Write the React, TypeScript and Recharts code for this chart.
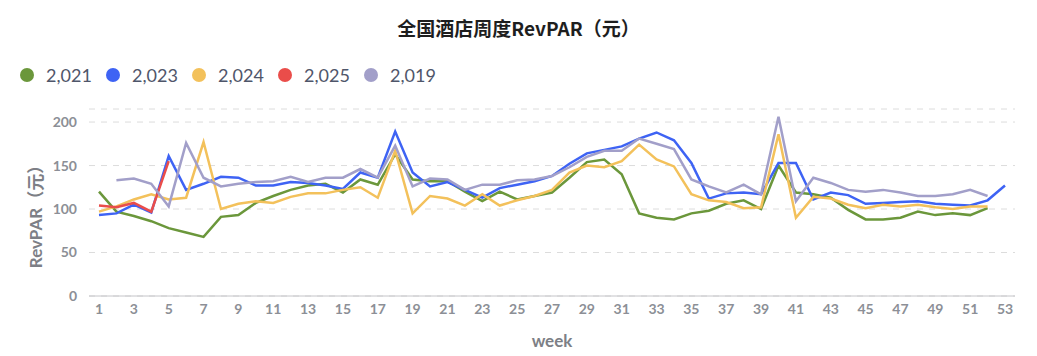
import { LineChart, Line, XAxis, YAxis, CartesianGrid } from 'recharts'

const weeks = [
  1, 2, 3, 4, 5, 6, 7, 8, 9, 10, 11, 12, 13, 14, 15, 16, 17, 18, 19, 20, 21, 22, 23, 24, 25, 26,
  27, 28, 29, 30, 31, 32, 33, 34, 35, 36, 37, 38, 39, 40, 41, 42, 43, 44, 45, 46, 47, 48, 49, 50,
  51, 52, 53,
]

const y2021 = [
  120, 97, 92, 86, 78, 73, 68, 91, 93, 107, 115, 122, 127, 129, 119, 134, 128, 163, 134, 132, 132,
  120, 109, 120, 111, 115, 119, 136, 154, 157, 140, 95, 90, 88, 95, 98, 106, 110, 100, 150, 119,
  117, 113, 99, 88, 88, 90, 97, 93, 95, 93, 101, null,
]

const y2023 = [
  93, 95, 105, 96, 161, 122, 129, 137, 136, 127, 127, 131, 130, 127, 123, 142, 136, 189, 142, 126,
  131, 122, 113, 124, 128, 132, 138, 152, 164, 168, 172, 181, 188, 179, 153, 112, 118, 119, 117,
  153, 153, 111, 119, 116, 106, 107, 108, 109, 106, 105, 104, 110, 127,
]

const y2024 = [
  97, 103, 111, 117, 111, 113, 177, 100, 106, 109, 107, 114, 118, 118, 122, 125, 113, 167, 95, 115,
  112, 104, 117, 104, 110, 115, 122, 142, 150, 148, 155, 174, 157, 149, 117, 110, 108, 101, 102,
  186, 90, 114, 112, 105, 101, 105, 103, 105, 102, 100, 103, 103, null,
]

const y2025 = [104, 102, 107, 97, 155]

const y2019 = [
  null, 133, 135, 129, 103, 176, 136, 126, 129, 131, 132, 137, 131, 136, 136, 146, 136, 173, 126,
  135, 134, 122, 128, 128, 133, 134, 138, 148, 160, 167, 167, 181, 175, 169, 134, 126, 119, 128,
  117, 206, 109, 136, 130, 122, 120, 122, 119, 115, 115, 117, 122, 115, null,
]

const xTicks = [1, 3, 5, 7, 9, 11, 13, 15, 17, 19, 21, 23, 25, 27, 29, 31, 33, 35, 37, 39, 41, 43, 45, 47, 49, 51, 53]
const yTicks = [0, 50, 100, 150, 200]

const series = [
  { key: 'y2021', name: '2,021', color: '#6b973b' },
  { key: 'y2023', name: '2,023', color: '#3e63f4' },
  { key: 'y2024', name: '2,024', color: '#f3c15b' },
  { key: 'y2025', name: '2,025', color: '#ea4d4a' },
  { key: 'y2019', name: '2,019', color: '#a29fc9' },
]

const data = weeks.map((w, i) => ({
  week: w,
  y2021: y2021[i] ?? null,
  y2023: y2023[i] ?? null,
  y2024: y2024[i] ?? null,
  y2025: y2025[i] ?? null,
  y2019: y2019[i] ?? null,
}))

const tickStyle = { fill: '#8c8f96', fontSize: 14, fontWeight: 700, fontFamily: 'Lato' }

export default function App() {
  return (
    <div style={{ position: 'absolute', left: 0, top: 0, width: 1037, height: 356, background: '#fff' }}>
      <div
        style={{
          position: 'absolute',
          top: 14,
          left: 0,
          width: 1037,
          textAlign: 'center',
          fontFamily: '"Noto Sans CJK SC", Lato',
          fontWeight: 700,
          fontSize: 19,
          color: '#1e1e1e',
        }}
      >
        全国酒店周度RevPAR（元）
      </div>
      <div style={{ position: 'absolute', top: 64, left: 20, display: 'flex', fontFamily: 'Lato' }}>
        {series.map((s) => (
          <div key={s.key} style={{ display: 'flex', alignItems: 'center', width: 86 }}>
            <span
              style={{ width: 14, height: 14, borderRadius: 7, background: s.color, display: 'inline-block', marginRight: 12 }}
            />
            <span style={{ fontSize: 18, color: '#4f566a' }}>{s.name}</span>
          </div>
        ))}
      </div>
      <LineChart
        width={1037}
        height={356}
        data={data}
        margin={{ top: 109, right: 22, bottom: 4, left: 0 }}
        style={{ position: 'absolute', left: 0, top: 0 }}
      >
        <CartesianGrid horizontal vertical={false} stroke="#dcdcdc" strokeDasharray="6 6" />
        <XAxis
          dataKey="week"
          type="number"
          domain={[1, 53]}
          ticks={xTicks}
          interval={0}
          padding={{ left: 10, right: 10 }}
          height={56}
          tickLine={false}
          stroke="#c4c4c8"
          tick={tickStyle}
          label={{ value: 'week', position: 'insideBottom', offset: 5, fill: '#7d7f86', fontSize: 17, fontWeight: 700, fontFamily: 'Lato' }}
        />
        <YAxis
          type="number"
          domain={[0, 215]}
          ticks={yTicks}
          width={89}
          axisLine={false}
          tickLine={false}
          tickMargin={6}
          tick={tickStyle}
          label={({ viewBox }: any) => {
            const cx = viewBox.x + 35
            const cy = viewBox.y + viewBox.height / 2 + 10
            return (
              <text
                x={cx}
                y={cy}
                transform={`rotate(-90 ${cx} ${cy})`}
                textAnchor="middle"
                dominantBaseline="central"
                fill="#7d7f86"
                fontSize={17}
                fontWeight={700}
                fontFamily='Lato, "Noto Sans CJK SC"'
              >
                RevPAR（元）
              </text>
            )
          }}
        />
        {series.map((s) => (
          <Line
            key={s.key}
            type="linear"
            dataKey={s.key}
            name={s.name}
            stroke={s.color}
            strokeWidth={2.5}
            dot={false}
            activeDot={false}
            connectNulls={false}
            isAnimationActive={false}
          />
        ))}
      </LineChart>
    </div>
  )
}
